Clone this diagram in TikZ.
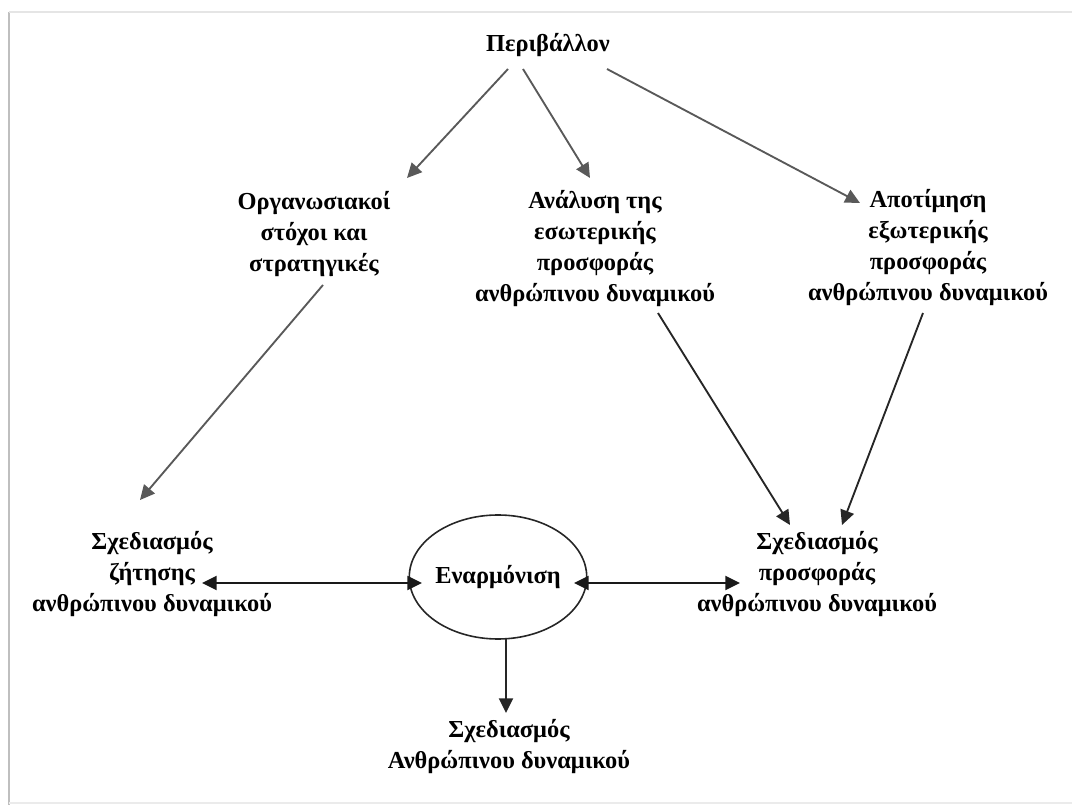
\documentclass[tikz,border=0pt]{standalone}
\usepackage{fontspec}
\setmainfont{Liberation Serif}
\usetikzlibrary{arrows.meta,shapes.geometric}
\begin{document}
\begin{tikzpicture}[x=0.75pt,y=-0.75pt,
  lbl/.style={align=center,inner sep=0pt,font=\fontsize{18.3pt}{23.25pt}\selectfont\bfseries},
  arr/.style={line width=1.4pt,draw=black!85,-{Triangle[length=11pt,width=10.5pt]}},
  garr/.style={arr,draw=black!65},
  darr/.style={line width=1.4pt,draw=black!90,{Triangle[length=11pt,width=10.5pt]}-{Triangle[length=11pt,width=10.5pt]}}]
\useasboundingbox (0,0) rectangle (1072,805);
% frame
\draw[line width=2pt,draw=black!25] (9,12) -- (9,805);
\draw[line width=0.8pt,draw=black!10] (9,12) -- (1072,12);
\draw[line width=0.8pt,draw=black!8] (9,803) -- (1072,803);
% nodes
\node[lbl] (env) at (548,45) {Περιβάλλον};
\node[lbl] (org) at (314,234) {Οργανωσιακοί\\στόχοι και\\στρατηγικές};
\node[lbl] (int) at (595,249) {Ανάλυση της\\εσωτερικής\\προσφοράς\\ανθρώπινου δυναμικού};
\node[lbl] (ext) at (928,248) {Αποτίμηση\\εξωτερικής\\προσφοράς\\ανθρώπινου δυναμικού};
\node[lbl] (dem) at (152,574) {Σχεδιασμός\\ζήτησης\\ανθρώπινου δυναμικού};
\node[lbl] (sup) at (817,574) {Σχεδιασμός\\προσφοράς\\ανθρώπινου δυναμικού};
\node[lbl,ellipse,draw=black!85,line width=1.2pt,minimum width=114pt,minimum height=93pt] (harm) at (498,577) {Εναρμόνιση};
\node[lbl] (hr) at (509,747) {Σχεδιασμός\\Ανθρώπινου δυναμικού};
% connectors
\draw[garr] ([shift={(-40,24)}]env.center) -- ([shift={(93,-56)}]org.center);
\draw[garr] ([shift={(-25,24)}]env.center) -- ([shift={(-5,-71)}]int.center);
\draw[garr] ([shift={(59,24)}]env.center) -- ([shift={(-68,-45)}]ext.center);
\draw[garr] ([shift={(9,51)}]org.center) -- ([shift={(-12,-74)}]dem.center);
\draw[arr] ([shift={(63,64)}]int.center) -- ([shift={(-27,-49)}]sup.center);
\draw[arr] ([shift={(-5,65)}]ext.center) -- ([shift={(25,-49)}]sup.center);
\draw[darr] ([shift={(50,9)}]dem.center) -- ([shift={(-76,6)}]harm.center);
\draw[darr] ([shift={(76,6)}]harm.center) -- ([shift={(-77,9)}]sup.center);
\draw[arr] ([shift={(8,61)}]harm.center) -- ([shift={(-3,-34)}]hr.center);
\end{tikzpicture}
\end{document}
